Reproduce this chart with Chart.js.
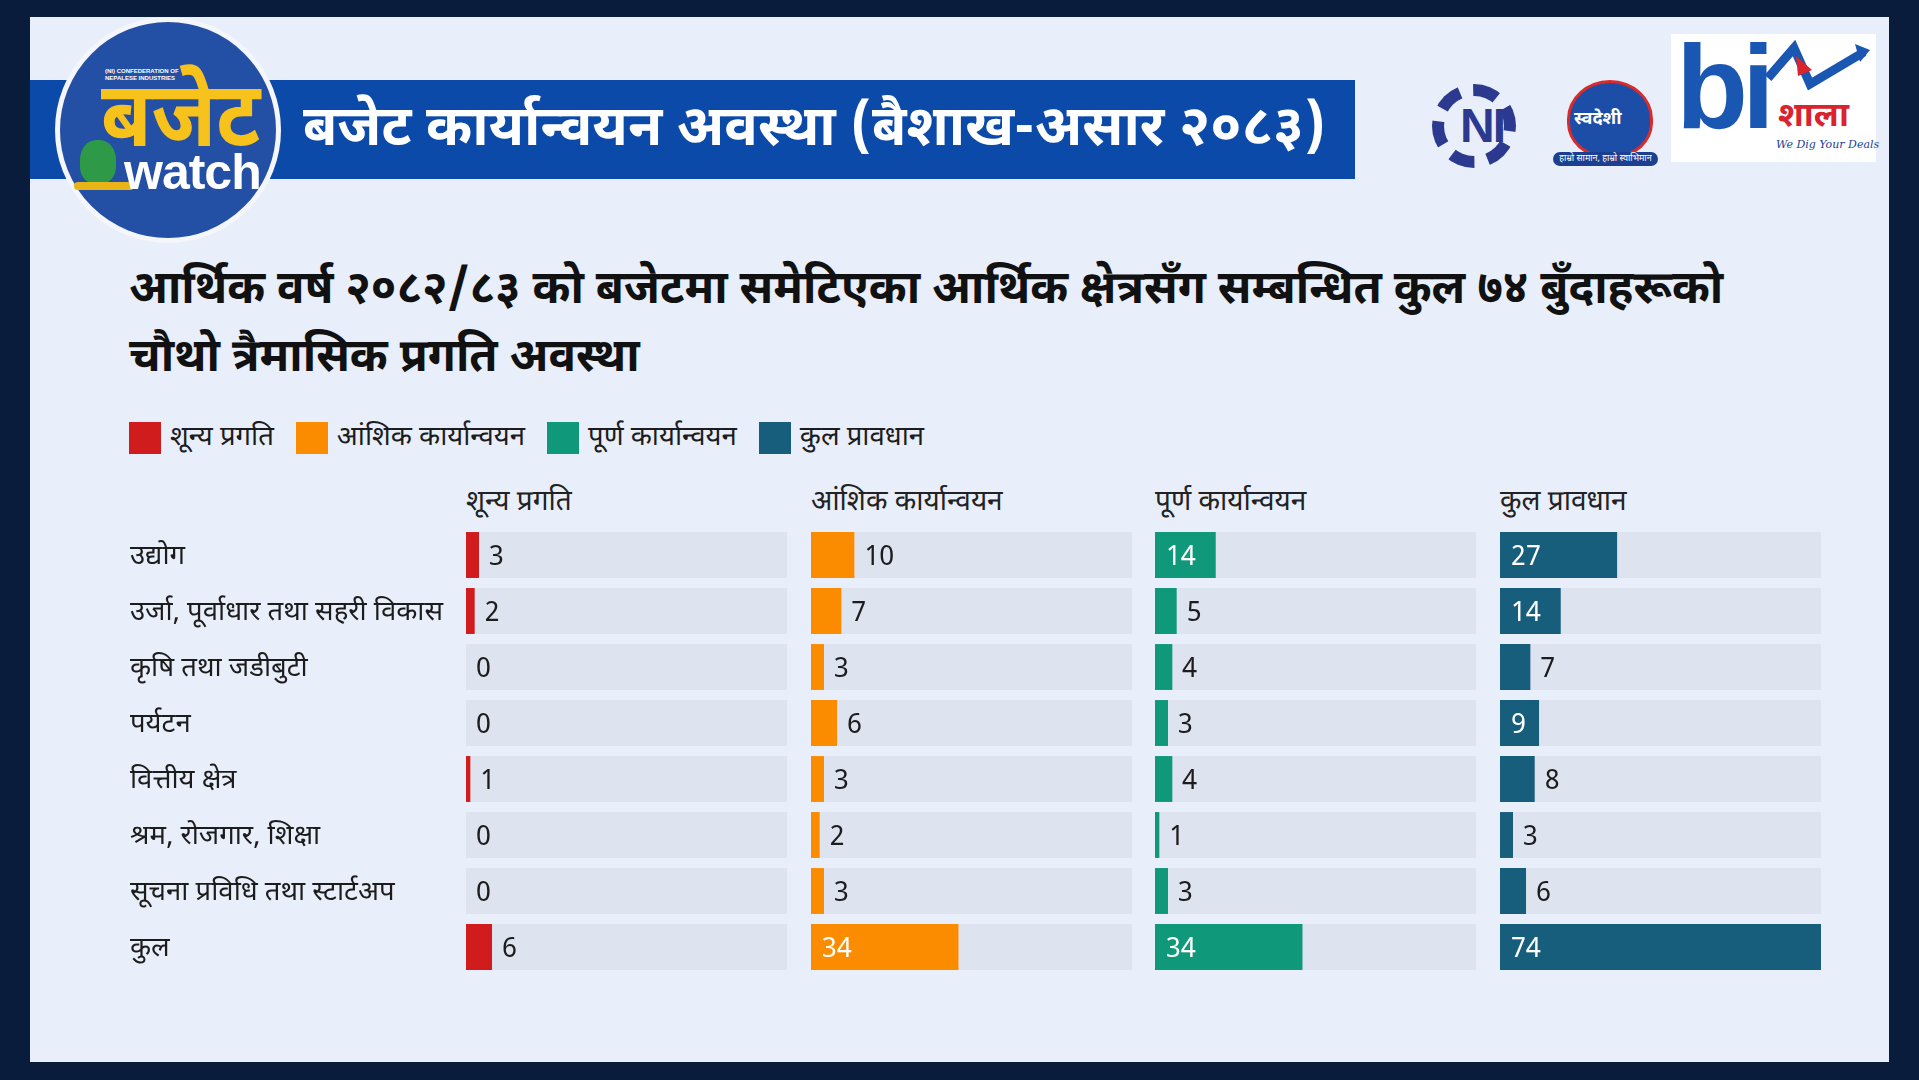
<!DOCTYPE html>
<html>
<head>
<meta charset="utf-8">
<script src="https://cdn.jsdelivr.net/npm/chart.js@4.4.1/dist/chart.umd.min.js"></script>
<style>
  html,body{margin:0;padding:0;}
  body{width:1919px;height:1080px;background:#0a1c3c;position:relative;overflow:hidden;
    font-family:"Noto Sans Devanagari","Lohit Devanagari","Mukta","Noto Sans",sans-serif;color:#1c1c1c;}
  .panel{position:absolute;left:30px;top:17px;width:1859px;height:1045px;background:#e8eefa;}
  .abs{position:absolute;}
  .banner{left:30px;top:80px;width:1325px;height:99px;background:#0b4aa8;}
  .banner-title{left:303px;top:82px;height:99px;line-height:99px;color:#fff;font-weight:700;font-size:55.8px;white-space:nowrap;}
  .logo{left:55px;top:17px;width:216px;height:216px;border-radius:50%;background:#2350a5;border:5px solid #f4f6fb;}
  .heading{left:129px;top:258px;font-size:45.7px;font-weight:700;line-height:68px;color:#111;white-space:nowrap;}
  .legend{left:129px;top:420px;display:flex;align-items:center;font-size:27.5px;white-space:nowrap;}
  .legend span.sw{display:inline-block;width:32px;height:32px;margin-right:9px;}
  .legend .item{display:flex;align-items:center;margin-right:22px;}
  .colhead{top:485px;font-size:28px;white-space:nowrap;color:#222;}
  canvas{position:absolute;}
</style>
</head>
<body>
<div class="panel"></div>
<div class="abs banner"></div>
<div class="abs banner-title">बजेट कार्यान्वयन अवस्था (बैशाख-असार २०८३)</div>

<div class="abs logo"></div>
<div class="abs" style="left:105px;top:68px;color:#fff;font:700 6px 'Liberation Sans';line-height:7px;">(NI) CONFEDERATION OF<br>NEPALESE INDUSTRIES</div>
<div class="abs" style="left:101px;top:62px;color:#f7c21b;font-weight:700;font-size:82px;line-height:110px;transform:scaleY(1.12);transform-origin:top left;">बजेट</div>
<div class="abs" style="left:80px;top:140px;width:36px;height:44px;border-radius:45% 45% 40% 40%;background:#2e9a48;"></div>
<div class="abs" style="left:74px;top:182px;width:60px;height:8px;border-radius:4px;background:#e8b417;"></div>
<div class="abs" style="left:124px;top:143px;color:#fff;font:700 50px 'Liberation Sans Narrow','Liberation Sans';letter-spacing:-1px;">watch</div>

<!-- partner logos -->
<div class="abs" style="left:1432px;top:84px;width:84px;height:84px;border-radius:50%;border:12px dashed #2b3a8f;box-sizing:border-box;"></div>
<div class="abs" style="left:1460px;top:98px;color:#2b3a8f;font:700 48px 'Liberation Sans';letter-spacing:-2px;">NI</div>
<div class="abs" style="left:1567px;top:80px;width:80px;height:72px;border-radius:50% 50% 45% 45%;background:#1c4ea8;border:3px solid #d92b2b;"></div>
<div class="abs" style="left:1574px;top:108px;color:#fff;font-weight:700;font-size:18px;">स्वदेशी</div>
<div class="abs" style="left:1553px;top:152px;width:105px;height:14px;border-radius:7px;background:#1c3f8f;color:#fff;font-size:9px;line-height:14px;text-align:center;">हाम्रो सामान, हाम्रो स्वाभिमान</div>
<div class="abs" style="left:1671px;top:34px;width:205px;height:128px;background:#fff;"></div>
<div class="abs" style="left:1676px;top:22px;color:#1a57b3;font:700 118px 'Liberation Sans';letter-spacing:-6px;line-height:130px;">bi</div>
<svg class="abs" style="left:1760px;top:40px" width="112" height="80" viewBox="0 0 112 80">
  <polyline points="8,38 34,8 50,44 104,12" fill="none" stroke="#1a57b3" stroke-width="9"/>
  <polygon points="95,4 110,10 100,22" fill="#1a57b3"/>
  <polygon points="36,16 52,30 38,36" fill="#d9232d"/>
</svg>
<div class="abs" style="left:1778px;top:96px;color:#d9232d;font-weight:700;font-size:34px;">शाला</div>
<div class="abs" style="left:1776px;top:138px;color:#1a3f8f;font:italic 11px 'DejaVu Serif';">We Dig Your Deals</div>

<div class="abs heading">आर्थिक वर्ष २०८२/८३ को बजेटमा समेटिएका आर्थिक क्षेत्रसँग सम्बन्धित कुल ७४ बुँदाहरूको<br>चौथो त्रैमासिक प्रगति अवस्था</div>

<div class="abs legend" id="legend"></div>
<div id="heads"></div>

<canvas id="c0"></canvas>
<canvas id="c1"></canvas>
<canvas id="c2"></canvas>
<canvas id="c3"></canvas>

<script>
const sectors = ['उद्योग','उर्जा, पूर्वाधार तथा सहरी विकास','कृषि तथा जडीबुटी','पर्यटन','वित्तीय क्षेत्र','श्रम, रोजगार, शिक्षा','सूचना प्रविधि तथा स्टार्टअप','कुल'];
const seriesNames = ['शून्य प्रगति','आंशिक कार्यान्वयन','पूर्ण कार्यान्वयन','कुल प्रावधान'];
const zeroProgress = [3,2,0,0,1,0,0,6];
const partial = [10,7,3,6,3,2,3,34];
const complete = [14,5,4,3,4,1,3,34];
const totalProvision = [27,14,7,9,8,3,6,74];
const axisMax = 74;

const seriesData = [zeroProgress, partial, complete, totalProvision];
const colors = ['#d01c1c','#fb8c00','#10987a','#175e7c'];
const insideFrom = [99, 11, 10, 9];   // from this value on the number sits inside the bar
const panelLeft = [466, 811, 1155, 1500];
const panelWidth = 321;
const labelColWidth = 336;
const fontStack = '"Noto Sans Devanagari","Lohit Devanagari","Mukta","Noto Sans",sans-serif';

document.getElementById('legend').innerHTML = seriesNames.map((n,i)=>
  `<div class="item"><span class="sw" style="background:${colors[i]}"></span>${n}</div>`).join('');
document.getElementById('heads').innerHTML = seriesNames.map((n,i)=>
  `<div class="abs colhead" style="left:${panelLeft[i]}px">${n}</div>`).join('');

// grey track behind every bar, 0..axisMax
const trackPlugin = {
  id: 'track',
  beforeDatasetsDraw(chart){
    const {ctx, scales:{x}} = chart;
    const meta = chart.getDatasetMeta(0);
    const x0 = x.getPixelForValue(0), x1 = x.getPixelForValue(axisMax);
    ctx.save();
    ctx.fillStyle = '#dde3ef';
    meta.data.forEach(bar=>{ ctx.fillRect(x0, bar.y - bar.height/2, x1 - x0, bar.height); });
    ctx.restore();
  }
};

const valuePlugin = {
  id: 'values',
  afterDatasetsDraw(chart, args, opts){
    const {ctx} = chart;
    const ds = chart.data.datasets[0];
    const meta = chart.getDatasetMeta(0);
    ctx.save();
    ctx.font = '27px ' + fontStack;
    ctx.textBaseline = 'middle';
    ctx.textAlign = 'left';
    meta.data.forEach((bar,i)=>{
      const v = ds.data[i];
      if (v >= opts.insideFrom){
        ctx.fillStyle = '#ffffff';
        ctx.fillText(String(v), bar.base + 11, bar.y + 5);
      } else {
        ctx.fillStyle = '#1c1c1c';
        ctx.fillText(String(v), bar.x + 10, bar.y + 5);
      }
    });
    ctx.restore();
  }
};

function makeChart(i){
  const el = document.getElementById('c'+i);
  const withLabels = i === 0;
  const w = withLabels ? panelWidth + labelColWidth : panelWidth;
  el.width = w; el.height = 448;
  el.style.left = (withLabels ? panelLeft[0] - labelColWidth : panelLeft[i]) + 'px';
  el.style.top = '527px';
  el.style.width = w + 'px';
  el.style.height = '448px';
  const yAxis = {
    display: withLabels,
    grid: { display: false }, border: { display: false },
    ticks: { crossAlign: 'far', color: '#1c1c1c', padding: 0, labelOffset: 4, font: { family: fontStack, size: 27.5 } }
  };
  if (withLabels) yAxis.afterFit = s => { s.width = labelColWidth; s.paddingTop = 0; s.paddingBottom = 0; };
  return new Chart(el, {
    type: 'bar',
    data: { labels: sectors, datasets: [{ label: seriesNames[i], data: seriesData[i], backgroundColor: colors[i],
      barPercentage: 0.82, categoryPercentage: 1 }] },
    options: {
      indexAxis: 'y', responsive: false, maintainAspectRatio: false, animation: false,
      devicePixelRatio: 1,
      layout: { padding: 0 },
      plugins: { legend: { display: false }, tooltip: { enabled: false }, values: { insideFrom: insideFrom[i] } },
      scales: { x: { display: false, min: 0, max: axisMax }, y: yAxis }
    },
    plugins: [trackPlugin, valuePlugin]
  });
}

[0,1,2,3].forEach(makeChart);
</script>
</body>
</html>
